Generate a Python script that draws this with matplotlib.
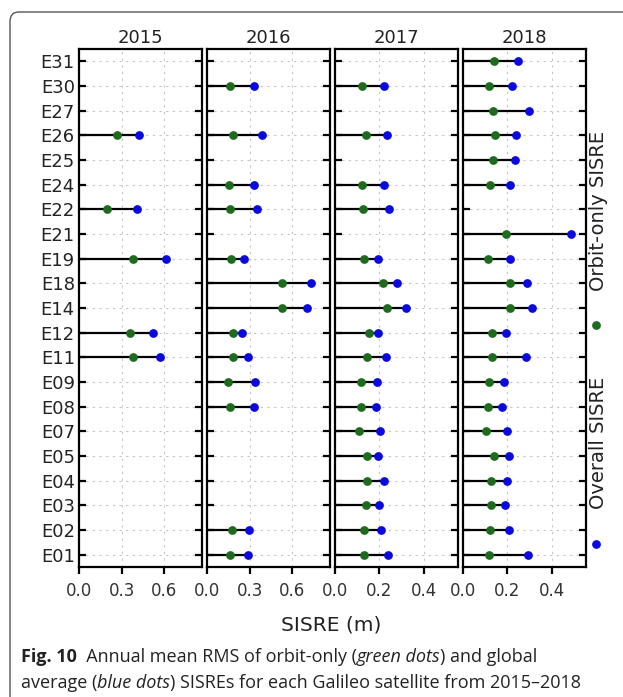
import numpy as np
import matplotlib.pyplot as plt
from matplotlib.lines import Line2D
from matplotlib.patches import FancyBboxPatch

plt.rcParams['font.family'] = ['DejaVu Sans']

nan = np.nan
sats = ['E31', 'E30', 'E27', 'E26', 'E25', 'E24', 'E22', 'E21', 'E19', 'E18', 'E14',
        'E12', 'E11', 'E09', 'E08', 'E07', 'E05', 'E04', 'E03', 'E02', 'E01']
years = ['2015', '2016', '2017', '2018']

# orbit-only SISRE (green) and overall SISRE (blue), in m
orbit_2015 = [nan, nan, nan, 0.27, nan, nan, 0.20, nan, 0.38, nan, nan,
              0.36, 0.38, nan, nan, nan, nan, nan, nan, nan, nan]
overall_2015 = [nan, nan, nan, 0.42, nan, nan, 0.41, nan, 0.61, nan, nan,
                0.52, 0.57, nan, nan, nan, nan, nan, nan, nan, nan]
orbit_2016 = [nan, 0.16, nan, 0.185, nan, 0.155, 0.16, nan, 0.17, 0.53, 0.53,
              0.18, 0.18, 0.15, 0.165, nan, nan, nan, nan, 0.175, 0.16]
overall_2016 = [nan, 0.33, nan, 0.39, nan, 0.33, 0.355, nan, 0.26, 0.73, 0.70,
                0.245, 0.285, 0.335, 0.33, nan, nan, nan, nan, 0.295, 0.29]
orbit_2017 = [nan, 0.123, nan, 0.138, nan, 0.123, 0.124, nan, 0.130, 0.216, 0.232,
              0.151, 0.144, 0.115, 0.117, 0.109, 0.142, 0.145, 0.139, 0.129, 0.129]
overall_2017 = [nan, 0.220, nan, 0.235, nan, 0.222, 0.243, nan, 0.195, 0.277, 0.321,
                0.193, 0.228, 0.189, 0.184, 0.204, 0.193, 0.220, 0.199, 0.208, 0.240]
orbit_2018 = [0.141, 0.117, 0.133, 0.142, 0.135, 0.123, nan, 0.195, 0.112, 0.211, 0.211,
              0.129, 0.129, 0.117, 0.112, 0.105, 0.139, 0.127, 0.124, 0.123, 0.118]
overall_2018 = [0.246, 0.220, 0.298, 0.238, 0.232, 0.211, nan, 0.485, 0.211, 0.289, 0.309,
                0.192, 0.285, 0.186, 0.175, 0.196, 0.207, 0.198, 0.189, 0.207, 0.293]

orbit = [orbit_2015, orbit_2016, orbit_2017, orbit_2018]
overall = [overall_2015, overall_2016, overall_2017, overall_2018]
xmax = [0.865, 0.865, 0.553, 0.553]
xticks = [[0.0, 0.3, 0.6], [0.0, 0.3, 0.6], [0.0, 0.2, 0.4], [0.0, 0.2, 0.4]]

green = '#1e6b1e'
blue = '#0a0ae0'
txtc = '#222222'

fig = plt.figure(figsize=(6.23, 6.97), dpi=100)
W, H = 623, 697
lefts = [79, 207, 335, 463]
y = np.arange(len(sats))[::-1]

for i in range(4):
    ax = fig.add_axes([lefts[i] / W, 1 - 567 / H, 123 / W, 518 / H])
    o = np.array(orbit[i])
    a = np.array(overall[i])
    ax.hlines(y, 0, np.fmax(o, a), color='black', lw=1.6, zorder=3)
    ax.plot(o, y, 'o', color=green, ms=6.3, mec='none', zorder=4)
    ax.plot(a, y, 'o', color=blue, ms=6.3, mec='none', zorder=5)
    ax.set_xlim(0, xmax[i])
    ax.set_ylim(-0.5, len(sats) - 0.5)
    ax.set_xticks(xticks[i])
    ax.set_xticklabels(['%.1f' % v for v in xticks[i]], fontsize=12, color='#333333')
    ax.set_yticks(y)
    if i == 0:
        ax.set_yticklabels(sats, fontsize=13, color=txtc)
    else:
        ax.set_yticklabels([])
    ax.tick_params(axis='y', direction='in', length=5, width=1.6, left=True, right=True, pad=3)
    ax.tick_params(axis='x', direction='out', length=5, width=1.6, pad=6)
    ax.grid(True, color='#c4c4c4', linestyle=(0, (2, 4)), lw=0.8)
    ax.set_axisbelow(True)
    for s in ax.spines.values():
        s.set_linewidth(1.6)
    ax.set_title(years[i], fontsize=13, pad=4, color=txtc)

fig.text(331 / W, 1 - 625 / H, 'SISRE (m)', ha='center', va='center', fontsize=14.5, color=txtc)

# right side legend
fig.text(599 / W, 1 - 211 / H, 'Orbit-only SISRE', rotation=90, ha='center', va='center',
         fontsize=14, color=txtc)
fig.text(599 / W, 1 - 443 / H, 'Overall SISRE', rotation=90, ha='center', va='center',
         fontsize=14, color=txtc)
fig.add_artist(Line2D([596 / W], [1 - 325 / H], marker='o', ms=6.3, color=green, mec='none',
                      transform=fig.transFigure))
fig.add_artist(Line2D([596 / W], [1 - 544 / H], marker='o', ms=6.3, color=blue, mec='none',
                      transform=fig.transFigure))

# outer rounded frame
fig.add_artist(FancyBboxPatch((10 / W, -0.1), 1.2, 0.1 + 1 - 12 / H,
                              boxstyle='round,pad=0,rounding_size=0.014',
                              transform=fig.transFigure, fc='none', ec='#555555', lw=1.0))

# caption, pieces chained one after another
cap = ['Open Sans', 'DejaVu Sans']
line1 = [('Fig. 10', 'bold', 'normal'), ('  Annual mean RMS of orbit-only (', 'normal', 'normal'),
         ('green dots', 'normal', 'italic'), (') and global', 'normal', 'normal')]
line2 = [('average (', 'normal', 'normal'), ('blue dots', 'normal', 'italic'),
         (') SISREs for each Galileo satellite from 2015\u20132018', 'normal', 'normal')]
for line, yb in [(line1, 666), (line2, 692)]:
    prev = None
    for txt, wt, st in line:
        if prev is None:
            prev = fig.text(21 / W, 1 - yb / H, txt, fontsize=13, fontweight=wt, style=st,
                            family=cap, va='bottom', ha='left', color=txtc)
        else:
            prev = fig.add_artist(plt.Annotation(txt, xy=(1, 0), xycoords=prev, va='bottom', ha='left',
                                                 fontsize=13, fontweight=wt, style=st, family=cap,
                                                 color=txtc))

fig.savefig('out.png', dpi=100)
